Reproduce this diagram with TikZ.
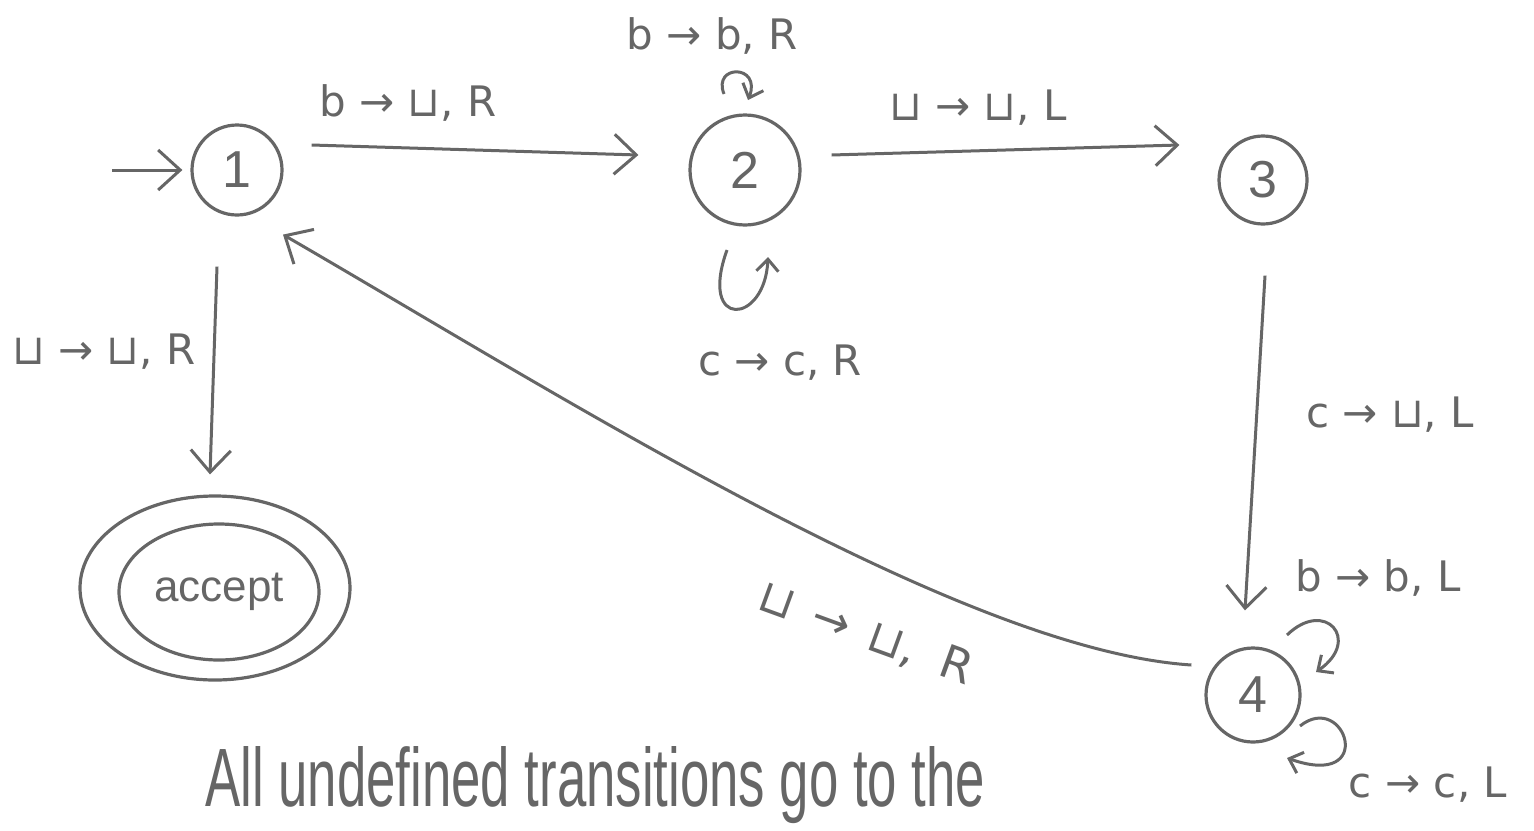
\documentclass[tikz,border=0pt]{standalone}
\usepackage{fontspec}
\setmainfont{Liberation Sans}
\newfontfamily\symfont{DejaVu Sans}
\usepackage{graphicx}
\usetikzlibrary{arrows.meta,shapes.geometric,calc}
\definecolor{ink}{HTML}{666666}
\tikzset{
  statebox/.style={circle, draw=ink, line width=1.6pt, inner sep=0pt, text=ink, font=\fontsize{26}{30}\selectfont},
  acceptbox/.style={ellipse, draw=ink, line width=1.6pt, inner sep=0pt, text=ink, font=\fontsize{22}{26}\selectfont},
  tr/.style={draw=ink, line width=1.5pt, -{Straight Barb[length=11pt,width=20pt,line width=1.5pt]}},
  loopedge/.style={draw=ink, line width=1.5pt, -{Straight Barb[length=6pt,width=11pt,line width=1.5pt]}},
  lbl/.style={text=ink, font=\symfont\fontsize{21}{25}\selectfont, inner sep=0pt},
}
\begin{document}
\begin{tikzpicture}[x=0.5pt,y=-0.5pt]
\useasboundingbox (0,0) rectangle (1534,830);
% states
\node[statebox, minimum size=45pt] (s1) at (237,170) {1};
\node[statebox, minimum size=55pt] (s2) at (745,170) {2};
\node[statebox, minimum size=44pt] (s3) at (1263,180) {3};
\node[statebox, minimum size=47pt] (s4) at (1253,695) {4};
\node[acceptbox, minimum width=100pt, minimum height=68pt] (acc) at (219,592) {accept};
\node[ellipse, draw=ink, line width=1.6pt, minimum width=135pt, minimum height=92pt] (accout) at (215,588) {};
% start arrow
\coordinate (st) at (112,170);
\draw[tr] (st) -- ($(s1.west)+(-8,0)$);
% 1 -> 2
\draw[tr] ($(s1.east)+(28,-25)$) -- ($(s2.west)+(-50,-15)$);
\node[lbl] (t12) at (408,103) {b → ⊔, R};
% 2 -> 3
\draw[tr] ($(s2.east)+(30,-15)$) -- ($(s3.west)+(-38,-35)$);
\node[lbl] (t23) at (978,108) {⊔ → ⊔, L};
% 3 -> 4
\draw[tr] ($(s3.south)+(2,50)$) -- ($(s4.north)+(-8,-36)$);
\node[lbl] (t34) at (1390,415) {c → ⊔, L};
% 1 -> accept
\draw[tr] ($(s1.south)+(-20,50)$) -- ($(accout.north)+(-5,-20)$);
\node[lbl] (t1a) at (104,352) {⊔ → ⊔, R};
% 4 -> 1
\draw[tr] ($(s4.west)+(-13,-30)$) .. controls (960,650) and (560,395) .. ($(s1.south)+(46,18)$);
\node[lbl, font=\symfont\fontsize{23}{27}\selectfont, rotate=-20] (t41) at (866,634) {⊔\hspace{3pt} →\hspace{3pt} ⊔,\hspace{6pt} R};
% loops on 2
\coordinate (l2a) at (724,94);
\coordinate (l2b) at (748,100);
\draw[loopedge] (l2a) .. controls (712,64) and (762,64) .. (l2b);
\node[lbl] (t22a) at (712,36) {b → b, R};
\coordinate (l2c) at (727,250);
\coordinate (l2d) at (768,257);
\draw[loopedge] (l2c) .. controls (698,330) and (765,325) .. (l2d);
\node[lbl] (t22b) at (780,363) {c → c, R};
% loops on 4
\coordinate (l4a) at (1287,635);
\coordinate (l4b) at (1316,672);
\draw[loopedge] (l4a) .. controls (1325,598) and (1362,640) .. (l4b);
\node[lbl] (t44a) at (1378,578) {b → b, L};
\coordinate (l4c) at (1300,726);
\coordinate (l4d) at (1287,758);
\draw[loopedge] (l4c) .. controls (1345,690) and (1378,790) .. (l4d);
\node[lbl] (t44b) at (1428,785) {c → c, L};
% note
\node[text=ink, inner sep=0pt, anchor=base west] (note) at (205,806) {\resizebox{390pt}{30pt}{All undefined transitions go to the}};
\end{tikzpicture}
\end{document}
